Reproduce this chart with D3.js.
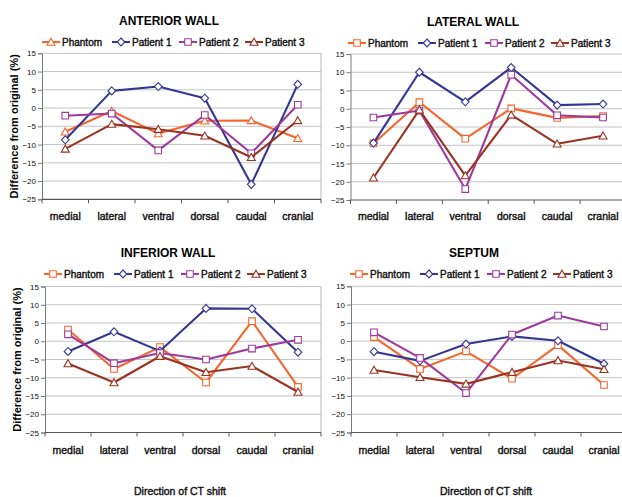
<!DOCTYPE html>
<html>
<head>
<meta charset="utf-8">
<script src="https://cdn.jsdelivr.net/npm/d3@7/dist/d3.min.js"></script>
<style>
  html, body { margin: 0; padding: 0; background: #fff; }
  svg { display: block; font-family: "Liberation Sans", Arial, sans-serif; }
</style>
</head>
<body>
<svg id="chart" width="622" height="497"></svg>
<script>
// Shift directions along the x axis and the four datasets
const categories = ["medial", "lateral", "ventral", "dorsal", "caudal", "cranial"];
const seriesNames = ["Phantom", "Patient 1", "Patient 2", "Patient 3"];
const yTicks = [15, 10, 5, 0, -5, -10, -15, -20, -25];
const panelTitles = ["ANTERIOR WALL", "LATERAL WALL", "INFERIOR WALL", "SEPTUM"];
const yAxisTitle = "Difference from original (%)";
const xAxisTitle = "Direction of CT shift";

// Difference from original (%) per shift direction
const anteriorPhantom  = [-6.5, -0.8, -7.0, -3.5, -3.4, -8.3];
const anteriorPatient1 = [-8.7, 4.7, 5.9, 2.7, -20.9, 6.5];
const anteriorPatient2 = [-2.1, -1.5, -11.6, -1.9, -12.4, 0.9];
const anteriorPatient3 = [-11.2, -4.4, -5.8, -7.6, -13.5, -3.4];

const lateralPhantom  = [-9.5, 1.8, -8.2, 0.1, -2.5, -2.0];
const lateralPatient1 = [-9.4, 10.0, 1.9, 11.3, 1.0, 1.3];
const lateralPatient2 = [-2.4, -0.5, -22.0, 9.3, -1.8, -2.4];
const lateralPatient3 = [-18.9, -0.3, -18.3, -1.7, -9.6, -7.4];

const inferiorPhantom  = [3.2, -7.6, -1.6, -11.3, 5.5, -12.5];
const inferiorPatient1 = [-2.8, 2.6, -2.7, 9.0, 8.9, -3.0];
const inferiorPatient2 = [1.9, -6.0, -3.2, -5.0, -2.0, 0.4];
const inferiorPatient3 = [-6.1, -11.3, -4.1, -8.5, -6.8, -13.9];

const septumPhantom  = [1.1, -7.6, -2.8, -10.3, -1.1, -12.0];
const septumPatient1 = [-2.9, -5.4, -0.8, 1.3, 0.1, -6.2];
const septumPatient2 = [2.4, -4.6, -14.2, 1.8, 7.0, 4.0];
const septumPatient3 = [-7.9, -9.9, -11.7, -8.5, -5.3, -7.7];

const panelData = [
  [anteriorPhantom, anteriorPatient1, anteriorPatient2, anteriorPatient3],
  [lateralPhantom, lateralPatient1, lateralPatient2, lateralPatient3],
  [inferiorPhantom, inferiorPatient1, inferiorPatient2, inferiorPatient3],
  [septumPhantom, septumPatient1, septumPatient2, septumPatient3]
];

const seriesColors = ["#f5662d", "#353594", "#9c3a9e", "#9a3322"];

// Panel geometry (plot rectangles, titles, legends)
const panels = [
  { x0: 42,  x1: 321, y0: 53.3, y1: 199.3, titleX: 169, titleY: 25, legX: 42,  legY: 42,  labY: 220, yTitle: true,  xTitle: false,
    shapes: ["triangle", "diamond", "square", "triangle"] },
  { x0: 350.5, x1: 626, y0: 54, y1: 200, titleX: 473, titleY: 26, legX: 348, legY: 43,  labY: 220, yTitle: false, xTitle: false,
    shapes: ["square", "diamond", "square", "triangle"] },
  { x0: 45,  x1: 321, y0: 286.5, y1: 432.5, titleX: 168, titleY: 257, legX: 44, legY: 274, labY: 454, yTitle: true, xTitle: true,
    shapes: ["square", "diamond", "square", "triangle"] },
  { x0: 351, x1: 627, y0: 286.3, y1: 432.5, titleX: 474, titleY: 257, legX: 350, legY: 274, labY: 454, yTitle: false, xTitle: true,
    shapes: ["square", "diamond", "square", "triangle"] }
];
const legendOffsets = [0, 70, 137, 203];

const svg = d3.select("#chart");

function markerPath(shape) {
  if (shape === "square") return "M-3.3,-3.3H3.3V3.3H-3.3Z";
  if (shape === "diamond") return "M0,-4L3.8,0L0,4L-3.8,0Z";
  return "M0,-3.8L4,3.2H-4Z";
}

panels.forEach((p, i) => {
  const g = svg.append("g");
  const x = d3.scaleBand().domain(categories).range([p.x0, p.x1]).padding(0);
  const y = d3.scaleLinear().domain([-25, 15]).range([p.y1, p.y0]);
  const cx = c => x(c) + x.bandwidth() / 2;

  // horizontal gridlines
  g.append("g").selectAll("line").data(yTicks.filter(t => t !== -25)).join("line")
    .attr("x1", p.x0).attr("x2", p.x1)
    .attr("y1", d => y(d)).attr("y2", d => y(d))
    .attr("stroke", "#c4c4c4").attr("stroke-width", 1);

  // right frame edge
  g.append("line").attr("x1", p.x1).attr("x2", p.x1).attr("y1", p.y0).attr("y2", p.y1)
    .attr("stroke", "#b8b8b8").attr("stroke-width", 1);

  // y axis
  const yAxis = d3.axisLeft(y).tickValues(yTicks).tickSize(4).tickPadding(2).tickFormat(d3.format("d"));
  const ya = g.append("g").attr("transform", `translate(${p.x0},0)`).call(yAxis);
  ya.select(".domain").attr("stroke", "#7a7a7a");
  ya.selectAll(".tick line").attr("stroke", "#7a7a7a");
  ya.selectAll(".tick text").attr("font-size", 8).attr("fill", "#111")
    .attr("font-family", "'Liberation Sans', Arial, sans-serif");

  // x axis line with ticks at category boundaries
  const xa = g.append("g");
  xa.append("line").attr("x1", p.x0).attr("x2", p.x1).attr("y1", y(-25)).attr("y2", y(-25))
    .attr("stroke", "#555").attr("stroke-width", 1.2);
  const bounds = categories.map(c => x(c)).concat([p.x1]);
  xa.selectAll("line.tk").data(bounds).join("line").attr("class", "tk")
    .attr("x1", d => d).attr("x2", d => d).attr("y1", y(-25)).attr("y2", y(-25) + 4)
    .attr("stroke", "#555");
  xa.selectAll("text").data(categories).join("text")
    .attr("x", d => cx(d)).attr("y", p.labY).attr("text-anchor", "middle")
    .attr("font-size", 10.5).attr("fill", "#111").attr("stroke", "#111").attr("stroke-width", 0.4)
    .text(d => d);

  // title
  g.append("text").attr("x", p.titleX).attr("y", p.titleY).attr("text-anchor", "middle")
    .attr("font-size", 12).attr("font-weight", "bold").attr("fill", "#000").text(panelTitles[i]);

  if (p.yTitle) {
    g.append("text")
      .attr("transform", `translate(${p.x0 - 24},${(p.y0 + p.y1) / 2}) rotate(-90)`)
      .attr("text-anchor", "middle").attr("font-size", 11).attr("font-weight", "bold")
      .attr("fill", "#000").text(yAxisTitle);
  }
  if (p.xTitle) {
    g.append("text").attr("x", (p.x0 + p.x1) / 2 - 3).attr("y", 495).attr("text-anchor", "middle")
      .attr("font-size", 10.5).attr("fill", "#111").attr("stroke", "#111").attr("stroke-width", 0.4)
      .text(xAxisTitle);
  }

  // series lines and markers
  const line = d3.line().x((d, k) => cx(categories[k])).y(d => y(d));
  panelData[i].forEach((vals, s) => {
    g.append("path").datum(vals).attr("d", line).attr("fill", "none")
      .attr("stroke", seriesColors[s]).attr("stroke-width", 2.1).attr("stroke-linejoin", "round");
    g.append("g").selectAll("path").data(vals).join("path")
      .attr("transform", (d, k) => `translate(${cx(categories[k])},${y(d)})`)
      .attr("d", markerPath(p.shapes[s]))
      .attr("fill", "#fff").attr("stroke", seriesColors[s]).attr("stroke-width", 1.1);
  });

  // legend
  const lg = g.append("g");
  seriesNames.forEach((name, s) => {
    const lx = p.legX + legendOffsets[s];
    lg.append("line").attr("x1", lx).attr("x2", lx + 18).attr("y1", p.legY).attr("y2", p.legY)
      .attr("stroke", seriesColors[s]).attr("stroke-width", 2);
    lg.append("path").attr("transform", `translate(${lx + 9},${p.legY})`)
      .attr("d", markerPath(p.shapes[s]))
      .attr("fill", "#fff").attr("stroke", seriesColors[s]).attr("stroke-width", 1.1);
    lg.append("text").attr("x", lx + 20).attr("y", p.legY + 3.6)
      .attr("font-size", 10).attr("fill", "#111").attr("stroke", "#111").attr("stroke-width", 0.4)
      .text(name);
  });
});
</script>
</body>
</html>
